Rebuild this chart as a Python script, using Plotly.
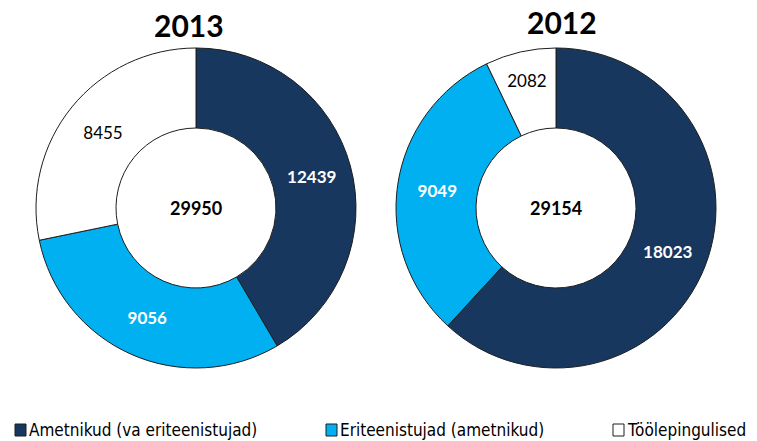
import plotly.graph_objects as go

# Staff counts by category
categories = ["Ametnikud (va eriteenistujad)", "Eriteenistujad (ametnikud)", "Töölepingulised"]
values_2013 = [12439, 9056, 8455]
values_2012 = [18023, 9049, 2082]
years = ["2013", "2012"]
totals = [29950, 29154]

colors = ["#17375E", "#00B0F0", "#FFFFFF"]
label_colors = ["#FFFFFF", "#FFFFFF", "#000000"]
label_formats = ["<b>%{value:.0f}</b>", "<b>%{value:.0f}</b>", "%{value:.0f}"]
FONT = "Lato, Open Sans, sans-serif"
LEGEND_FONT = "DejaVu Sans Condensed, Lato, sans-serif"

W, H = 757, 441


def px_domain(cx, cy, r):
    return dict(x=[(cx - r) / W, (cx + r) / W], y=[(H - cy - r) / H, (H - cy + r) / H])


fig = go.Figure()
centers = [(196, 208), (556, 208)]
for vals, (cx, cy) in zip([values_2013, values_2012], centers):
    fig.add_trace(go.Pie(
        labels=categories,
        values=vals,
        hole=0.5,
        sort=False,
        direction="clockwise",
        rotation=0,
        domain=px_domain(cx, cy, 160),
        marker=dict(colors=colors, line=dict(color="#1E1E1E", width=1)),
        textinfo="value",
        texttemplate=label_formats,
        textposition="inside",
        insidetextorientation="horizontal",
        textfont=dict(family=FONT, size=17, color=label_colors),
        showlegend=False,
        hoverinfo="label+value",
    ))

annotations = []
# Year titles
for yr, x, y in zip(years, [189, 562], [25, 22]):
    annotations.append(dict(text=f"<b>{yr}</b>", x=x / W, y=1 - y / H, xref="paper", yref="paper",
                            showarrow=False, font=dict(family=FONT, size=30, color="#000000"),
                            xanchor="center", yanchor="middle"))
# Totals in the donut holes
for tot, (cx, cy) in zip(totals, centers):
    annotations.append(dict(text=f"<b>{tot}</b>", x=cx / W, y=1 - cy / H, xref="paper", yref="paper",
                            showarrow=False, font=dict(family=FONT, size=18, color="#000000"),
                            xanchor="center", yanchor="middle"))

# Legend row
shapes = []
legend_x = [15, 326, 613]
ly = 430
for name, col, lx in zip(categories, colors, legend_x):
    shapes.append(dict(type="rect", xref="paper", yref="paper",
                       x0=lx / W, x1=(lx + 11) / W, y0=1 - (ly + 6) / H, y1=1 - (ly - 6) / H,
                       fillcolor=col, line=dict(color="#1E1E1E", width=1)))
    annotations.append(dict(text=name, x=(lx + 12) / W, y=1 - ly / H, xref="paper", yref="paper",
                            showarrow=False, xanchor="left", yanchor="middle",
                            font=dict(family=LEGEND_FONT, size=17, color="#000000")))

fig.update_layout(
    width=W, height=H,
    margin=dict(l=0, r=0, t=0, b=0),
    paper_bgcolor="#FFFFFF",
    plot_bgcolor="#FFFFFF",
    annotations=annotations,
    shapes=shapes,
)

fig.write_html("out.html")
